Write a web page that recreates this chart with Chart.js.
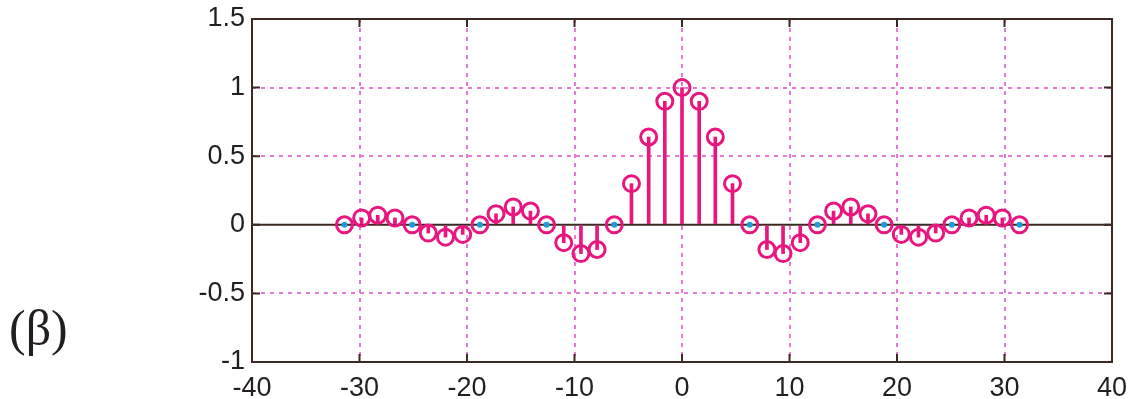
<!DOCTYPE html>
<html>
<head>
<meta charset="utf-8">
<script src="https://cdn.jsdelivr.net/npm/chart.js@4.4.1/dist/chart.umd.min.js"></script>
<style>
html,body{margin:0;padding:0;background:#fff;overflow:hidden;}
#wrap{position:relative;width:1133px;height:399px;}
#lbl{position:absolute;left:9px;top:303px;font-family:"Liberation Serif","DejaVu Serif",serif;font-size:50px;color:#231f20;line-height:1;}
</style>
</head>
<body>
<div id="wrap">
<canvas id="c" width="1133" height="399"></canvas>
<div id="lbl">(β)</div>
</div>
<script>
// sample positions
const xs = [-31.4,-29.8,-28.3,-26.7,-25.1,-23.6,-22.0,-20.4,-18.8,-17.3,-15.7,-14.1,-12.6,-11.0,-9.4,-7.9,-6.3,-4.7,-3.1,-1.6,0,
            1.6,3.1,4.7,6.3,7.9,9.4,11.0,12.6,14.1,15.7,17.3,18.8,20.4,22.0,23.6,25.1,26.7,28.3,29.8,31.4];
// sample values
const ys = [0,0.05,0.07,0.05,0,-0.06,-0.09,-0.07,0,0.08,0.13,0.10,0,-0.13,-0.21,-0.18,0,0.30,0.64,0.90,1.00,
            0.90,0.64,0.30,0,-0.18,-0.21,-0.13,0,0.10,0.13,0.08,0,-0.07,-0.09,-0.06,0,0.05,0.07,0.05,0];
const xTicks = [-40,-30,-20,-10,0,10,20,30,40];
const yTicks = [-1,-0.5,0,0.5,1,1.5];
const yTickLabels = ['-1','-0.5','0','0.5','1','1.5'];

const axisColor = '#3a2a22';
const gridColor = '#e27ad6';
const stemColor = '#e8177f';
const dotColor = '#1f9bd7';

const pts = xs.map((x,i)=>({x:x,y:ys[i]}));
const stems = xs.map((x,i)=>({x:x,y:[0,ys[i]]}));
const zeros = pts.filter(p=>p.y===0);

const boxPlugin = {
  id:'box',
  beforeDatasetsDraw(chart){
    const {ctx, chartArea:a, scales:{y}} = chart;
    ctx.save();
    ctx.strokeStyle = axisColor; ctx.lineWidth = 2;
    const y0 = y.getPixelForValue(0);
    ctx.beginPath(); ctx.moveTo(a.left,y0); ctx.lineTo(a.right,y0); ctx.stroke();
    ctx.restore();
  },
  afterDraw(chart){
    const {ctx, chartArea:a, scales:{x,y}} = chart;
    ctx.save();
    ctx.strokeStyle = axisColor; ctx.lineWidth = 2;
    ctx.strokeRect(a.left,a.top,a.right-a.left,a.bottom-a.top);
    const L = 8;
    ctx.beginPath();
    xTicks.forEach(v=>{const px=x.getPixelForValue(v);
      ctx.moveTo(px,a.bottom);ctx.lineTo(px,a.bottom-L);
      ctx.moveTo(px,a.top);ctx.lineTo(px,a.top+L);});
    yTicks.forEach(v=>{const py=y.getPixelForValue(v);
      ctx.moveTo(a.left,py);ctx.lineTo(a.left+L,py);
      ctx.moveTo(a.right,py);ctx.lineTo(a.right-L,py);});
    ctx.stroke();
    ctx.restore();
  }
};

const edgeGrid = (ctx)=>{
  const v = ctx.tick ? ctx.tick.value : null;
  if (v===null) return 'rgba(0,0,0,0)';
  if (ctx.scale.axis==='x' && (v===-40||v===40)) return 'rgba(0,0,0,0)';
  if (ctx.scale.axis==='y' && (v===-1||v===1.5||v===0)) return 'rgba(0,0,0,0)';
  return gridColor;
};
const font = {family:'"Liberation Sans", Arial, sans-serif',size:27};

new Chart(document.getElementById('c'),{
  data:{
    datasets:[
      {type:'scatter',data:zeros,pointRadius:3,pointBackgroundColor:dotColor,pointBorderWidth:0,order:1},
      {type:'scatter',data:pts,pointRadius:8,pointBorderWidth:3,pointBorderColor:stemColor,pointBackgroundColor:'rgba(0,0,0,0)',order:2},
      {type:'bar',data:stems,backgroundColor:stemColor,barThickness:3,borderWidth:0,order:3}
    ]
  },
  options:{
    responsive:false,animation:false,
    layout:{padding:{top:19,right:21,left:0,bottom:0}},
    plugins:{legend:{display:false},tooltip:{enabled:false}},
    scales:{
      x:{type:'linear',min:-40,max:40,offset:false,
        afterBuildTicks(s){s.ticks=xTicks.map(v=>({value:v}));},
        afterFit(s){s.height=37;s.paddingLeft=0;s.paddingRight=0;},
        grid:{color:edgeGrid,lineWidth:2,drawTicks:false,offset:false},
        border:{display:false,dash:[4,5]},
        ticks:{color:'#231f20',font:font,padding:10,maxRotation:0,autoSkip:false}
      },
      y:{type:'linear',min:-1,max:1.5,
        afterBuildTicks(s){s.ticks=yTicks.map(v=>({value:v}));},
        afterFit(s){s.width=252;s.paddingTop=0;s.paddingBottom=0;},
        grid:{color:edgeGrid,lineWidth:2,drawTicks:false},
        border:{display:false,dash:[4,5]},
        ticks:{color:'#231f20',font:font,padding:7,autoSkip:false,
          callback:(v,i)=>yTickLabels[i]}
      }
    }
  },
  plugins:[boxPlugin]
});
</script>
</body>
</html>
